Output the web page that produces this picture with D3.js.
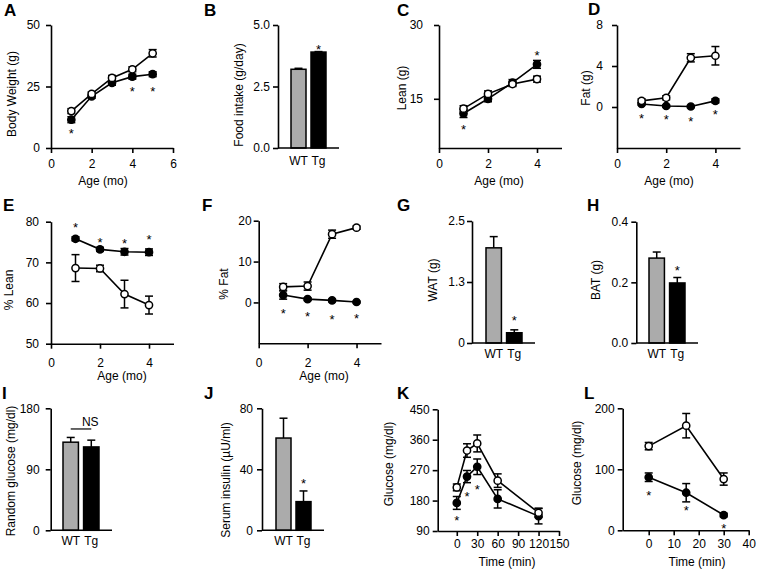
<!DOCTYPE html>
<html>
<head>
<meta charset="utf-8">
<script src="https://cdn.jsdelivr.net/npm/d3@7"></script>
<style>
    body { margin: 0; background: #fff; }
    svg { font-family: "Liberation Sans", Arial, sans-serif; }
    .axis path, .axis line { stroke: #000; stroke-width: 1.6; }
    .axis text { font-size: 12px; fill: #000; }
</style>
</head>
<body>
<svg id="fig" width="758" height="573"></svg>
<script>
// ---- DATA ----
// A: body weight
const ageA = [1, 2, 3, 4, 5];
const bodyWeightWT = [15, 22, 28.5, 32, 38.5];
const bodyWeightWTErr = [1, 0.8, 1, 1, 1.5];
const bodyWeightTg = [11.5, 21, 26.5, 29, 30];
const bodyWeightTgErr = [1.2, 0.8, 1, 1, 1];
const bodyWeightStars = [[1, 6.9], [4, 24], [5, 24]];

// bar groups
const groups = ['WT', 'Tg'];

// B: food intake
const foodIntake = [3.2, 3.9];
const foodIntakeErr = [0.04, 0.02];
const foodStars = [['Tg', 4.1]];

// C-F: body composition
const ageMo = [1, 2, 3, 4];
const leanWT = [13, 16, 18, 19];
const leanWTErr = [0.6, 0.6, 0.5, 0.6];
const leanTg = [12, 15, 18.3, 22];
const leanTgErr = [0.8, 0.6, 0.6, 0.8];
const leanStars = [[1, 9.3], [4, 24.3]];

const fatWT = [0.6, 0.9, 4.8, 5.0];
const fatWTErr = [0.2, 0.2, 0.4, 0.9];
const fatTg = [0.3, 0.1, 0.05, 0.6];
const fatTgErr = [0.1, 0.1, 0.1, 0.2];
const fatStars = [[1, -0.9], [2, -1.0], [3, -1.2], [4, -0.5]];

const pctLeanWT = [68.6, 68.5, 62.2, 59.5];
const pctLeanWTErr = [3.3, 0.8, 3.4, 2.2];
const pctLeanTg = [75.8, 73.2, 72.6, 72.5];
const pctLeanTgErr = [0.5, 0.5, 0.8, 0.8];
const pctLeanStars = [[1, 79.2], [2, 75.5], [3, 75.3], [4, 76.2]];

const pctFatWT = [3.8, 4.0, 16.7, 18.3];
const pctFatWTErr = [0.8, 1, 1, 0.4];
const pctFatTg = [1.8, 0.8, 0.5, 0.1];
const pctFatTgErr = [1, 0.3, 0.3, 0.2];
const pctFatStars = [[1, -2.1], [2, -2.8], [3, -3.5], [4, -3.3]];

// G, H: fat depots
const watValues = [1.95, 0.21];
const watErr = [0.23, 0.06];
const watStars = [['Tg', 0.51]];
const batValues = [0.28, 0.198];
const batErr = [0.02, 0.018];
const batStars = [['Tg', 0.248]];

// I, J: glucose / insulin
const randomGlucose = [130, 123];
const randomGlucoseErr = [7, 10];
const serumInsulin = [60.5, 18.8];
const serumInsulinErr = [13, 7];
const insulinStars = [['Tg', 32.3]];

// K: GTT
const gttTime = [0, 15, 30, 60, 120];
const gttWT = [219, 328, 349, 239, 144];
const gttWTErr = [10, 20, 25, 20, 13];
const gttTg = [173, 251, 280, 185, 134];
const gttTgErr = [19, 18, 23, 27, 23];
const gttStars = [[0, 129], [15, 199], [30, 221]];

// L: ITT
const ittTime = [0, 15, 30];
const ittWT = [138, 171.5, 84];
const ittWTErr = [6, 20, 10];
const ittTg = [87, 61.6, 25];
const ittTgErr = [7, 15, 3];
const ittStars = [[0, 61.6], [15, 36], [30, 7.5]];

const svg = d3.select('#fig');
const TICK = 5;

function panelLetter(letter, x, y) {
    svg.append('text')
        .attr('x', x).attr('y', y)
        .attr('fill', '#000')
        .style('font-size', '17px')
        .style('font-weight', 'bold')
        .text(letter);
}

function yTitle(text, x, y) {
    svg.append('text')
        .attr('transform', `translate(${x}, ${y}) rotate(-90)`)
        .attr('fill', '#000')
        .style('text-anchor', 'middle')
        .style('font-size', '12px')
        .text(text);
}

function drawYAxis(yScale, x, ticks, fmt, gap) {
    const axis = d3.axisLeft(yScale)
        .tickValues(ticks)
        .tickSize(TICK)
        .tickSizeOuter(0)
        .tickPadding(gap - TICK)
        .tickFormat(fmt || d3.format('d'));
    svg.append('g')
        .attr('class', 'axis')
        .attr('transform', `translate(${x}, 0)`)
        .call(axis);
}

function drawStars(stars, xPos, yScale) {
    svg.selectAll(null)
        .data(stars)
        .enter()
        .append('text')
        .attr('x', (d) => xPos(d[0]))
        .attr('y', (d) => yScale(d[1]))
        .attr('dy', '0.55em')
        .attr('fill', '#000')
        .style('text-anchor', 'middle')
        .style('font-size', '13px')
        .text('*');
}

// line + scatter panel
function plotLines(p) {
    const xScale = d3.scaleLinear().domain(p.xDomain).range(p.xRange);
    const yScale = d3.scaleLinear().domain(p.yDomain).range(p.yRange);
    const y0 = p.yRange[0];

    // x-axis //
    svg.append('g')
        .attr('class', 'axis')
        .attr('transform', `translate(0, ${y0})`)
        .call(d3.axisBottom(xScale)
            .tickValues(p.xTicks)
            .tickFormat(d3.format('d'))
            .tickSize(TICK)
            .tickSizeOuter(0)
            .tickPadding(p.xLabelY - y0 - 8.5 - TICK));

    svg.append('text')
        .attr('x', p.xTitle[1]).attr('y', p.xTitle[2])
        .attr('fill', '#000')
        .style('text-anchor', 'middle')
        .style('font-size', '12px')
        .text(p.xTitle[0]);

    // y-axis //
    drawYAxis(yScale, p.xRange[0], p.yTicks, null, p.yGap);
    yTitle(p.yTitle[0], p.yTitle[1], p.yTitle[2]);

    const line = d3.line()
        .x((d) => xScale(d.x))
        .y((d) => yScale(d.v));

    const chart = svg.append('g');

    p.series.forEach((s) => {
        const pts = p.x.map((x, i) => ({x: x, v: s.v[i], e: s.err[i]}));
        chart.append('path')
            .datum(pts)
            .attr('d', line)
            .attr('fill', 'none')
            .attr('stroke', '#000')
            .attr('stroke-width', 1.6);
        s.pts = pts;
    });

    p.series.forEach((s) => {
        // error bars
        const eb = chart.selectAll(null).data(s.pts).enter().append('g')
            .attr('stroke', '#000').attr('stroke-width', 1.5);
        eb.append('line')
            .attr('x1', (d) => xScale(d.x)).attr('x2', (d) => xScale(d.x))
            .attr('y1', (d) => yScale(d.v - d.e)).attr('y2', (d) => yScale(d.v + d.e));
        eb.append('line')
            .attr('x1', (d) => xScale(d.x) - 4).attr('x2', (d) => xScale(d.x) + 4)
            .attr('y1', (d) => yScale(d.v + d.e)).attr('y2', (d) => yScale(d.v + d.e));
        eb.append('line')
            .attr('x1', (d) => xScale(d.x) - 4).attr('x2', (d) => xScale(d.x) + 4)
            .attr('y1', (d) => yScale(d.v - d.e)).attr('y2', (d) => yScale(d.v - d.e));

        chart.selectAll(null).data(s.pts).enter().append('circle')
            .attr('cx', (d) => xScale(d.x))
            .attr('cy', (d) => yScale(d.v))
            .attr('r', 3.6)
            .attr('fill', s.open ? '#fff' : '#000')
            .attr('stroke', '#000')
            .attr('stroke-width', 1.5);
    });

    drawStars(p.stars, xScale, yScale);
}

// WT / Tg bar panel
function plotBars(p) {
    const xScale = d3.scaleBand()
        .domain(groups)
        .range(p.barRange)
        .paddingInner(0.25)
        .paddingOuter(0);
    const yScale = d3.scaleLinear().domain(p.yDomain).range(p.yRange);
    const y0 = yScale(0);
    const mid = (g) => xScale(g) + xScale.bandwidth() / 2;

    const data = groups.map((g, i) => ({g: g, v: p.values[i], e: p.err[i]}));

    // error bars (upper only)
    const eb = svg.selectAll(null).data(data).enter().append('g')
        .attr('stroke', '#000').attr('stroke-width', 1.5);
    eb.append('line')
        .attr('x1', (d) => mid(d.g)).attr('x2', (d) => mid(d.g))
        .attr('y1', (d) => yScale(d.v)).attr('y2', (d) => yScale(d.v + d.e));
    eb.append('line')
        .attr('x1', (d) => mid(d.g) - 4).attr('x2', (d) => mid(d.g) + 4)
        .attr('y1', (d) => yScale(d.v + d.e)).attr('y2', (d) => yScale(d.v + d.e));

    svg.selectAll(null).data(data).enter().append('rect')
        .attr('x', (d) => xScale(d.g))
        .attr('y', (d) => yScale(d.v))
        .attr('width', xScale.bandwidth())
        .attr('height', (d) => y0 - yScale(d.v))
        .attr('fill', (d) => d.g === 'WT' ? '#ababab' : '#000')
        .attr('stroke', '#000')
        .attr('stroke-width', 1.5);

    // x-axis line and labels
    svg.append('line')
        .attr('x1', p.axisX[0]).attr('x2', p.axisX[1])
        .attr('y1', y0).attr('y2', y0)
        .attr('stroke', '#000').attr('stroke-width', 1.6);

    svg.selectAll(null).data(groups).enter().append('text')
        .attr('x', (d) => mid(d))
        .attr('y', p.labelY)
        .attr('fill', '#000')
        .style('text-anchor', 'middle')
        .style('font-size', '12px')
        .text((d) => d);

    drawYAxis(yScale, p.axisX[0], p.yTicks, p.yFormat, p.yGap);
    yTitle(p.yTitle[0], p.yTitle[1], p.yTitle[2]);

    if (p.stars) drawStars(p.stars, mid, yScale);

    return {xScale: xScale, yScale: yScale, mid: mid};
}

// ---- ROW 1 ----
panelLetter('A', 4, 16);
plotLines({
    x: ageA, xDomain: [0, 6], xRange: [51, 173], xTicks: [0, 2, 4, 6],
    yDomain: [0, 50], yRange: [148, 25], yTicks: [0, 25, 50], yGap: 11,
    xLabelY: 168, xTitle: ['Age (mo)', 103, 185], yTitle: ['Body Weight (g)', 16, 94],
    series: [{v: bodyWeightTg, err: bodyWeightTgErr, open: false},
             {v: bodyWeightWT, err: bodyWeightWTErr, open: true}],
    stars: bodyWeightStars
});

panelLetter('B', 204, 16);
plotBars({
    values: foodIntake, err: foodIntakeErr, barRange: [291, 326], axisX: [278, 339],
    yDomain: [0, 5], yRange: [148, 25], yTicks: [0, 2.5, 5], yFormat: d3.format('.1f'), yGap: 8,
    labelY: 165, yTitle: ['Food intake (g/day)', 243, 95], stars: foodStars
});

panelLetter('C', 397, 16);
plotLines({
    x: ageMo, xDomain: [0, 5], xRange: [439, 561.5], xTicks: [0, 2, 4],
    yDomain: [5, 30], yRange: [148, 25], yTicks: [15, 30], yGap: 16,
    xLabelY: 168, xTitle: ['Age (mo)', 499, 185], yTitle: ['Lean (g)', 406, 88],
    series: [{v: leanTg, err: leanTgErr, open: false},
             {v: leanWT, err: leanWTErr, open: true}],
    stars: leanStars
});

panelLetter('D', 588, 15);
plotLines({
    x: ageMo, xDomain: [0, 5], xRange: [617, 740], xTicks: [0, 2, 4],
    yDomain: [-4, 8], yRange: [148, 25], yTicks: [0, 4, 8], yGap: 14,
    xLabelY: 168, xTitle: ['Age (mo)', 669, 185], yTitle: ['Fat (g)', 590, 88],
    series: [{v: fatTg, err: fatTgErr, open: false},
             {v: fatWT, err: fatWTErr, open: true}],
    stars: fatStars
});

// ---- ROW 2 ----
panelLetter('E', 3, 211);
plotLines({
    x: ageMo, xDomain: [0, 5], xRange: [51, 173.5], xTicks: [0, 2, 4],
    yDomain: [50, 80], yRange: [343.7, 221.7], yTicks: [50, 60, 70, 80], yGap: 12,
    xLabelY: 367, xTitle: ['Age (mo)', 122, 380], yTitle: ['% Lean', 13, 290],
    series: [{v: pctLeanTg, err: pctLeanTgErr, open: false},
             {v: pctLeanWT, err: pctLeanWTErr, open: true}],
    stars: pctLeanStars
});

panelLetter('F', 202, 211);
plotLines({
    x: ageMo, xDomain: [0, 5], xRange: [258.7, 381], xTicks: [0, 2, 4],
    yDomain: [-10, 20], yRange: [343.3, 220.7], yTicks: [0, 10, 20], yGap: 7,
    xLabelY: 367, xTitle: ['Age (mo)', 324, 380], yTitle: ['% Fat', 228, 284],
    series: [{v: pctFatTg, err: pctFatTgErr, open: false},
             {v: pctFatWT, err: pctFatWTErr, open: true}],
    stars: pctFatStars
});

panelLetter('G', 397, 211);
plotBars({
    values: watValues, err: watErr, barRange: [486, 522], axisX: [472, 535],
    yDomain: [0, 2.5], yRange: [343, 221], yTicks: [0, 1.25, 2.5],
    yFormat: (d) => d === 0 ? '0' : d3.format('.1f')(d + 0.001), yGap: 7,
    labelY: 358, yTitle: ['WAT (g)', 437, 280], stars: watStars
});

panelLetter('H', 587, 211);
plotBars({
    values: batValues, err: batErr, barRange: [649, 685], axisX: [636.3, 698],
    yDomain: [0, 0.4], yRange: [343, 221.7], yTicks: [0, 0.2, 0.4], yFormat: d3.format('.1f'), yGap: 8,
    labelY: 358, yTitle: ['BAT (g)', 600, 280], stars: batStars
});

// ---- ROW 3 ----
panelLetter('I', 2, 399);
const pI = plotBars({
    values: randomGlucose, err: randomGlucoseErr, barRange: [63, 99], axisX: [50.7, 112],
    yDomain: [0, 180], yRange: [530.3, 408.3], yTicks: [0, 90, 180], yGap: 11,
    labelY: 545, yTitle: ['Random glucose (mg/dl)', 15, 471]
});
// NS bracket
svg.append('line')
    .attr('x1', pI.mid('WT')).attr('x2', pI.mid('Tg'))
    .attr('y1', pI.yScale(149.5)).attr('y2', pI.yScale(149.5))
    .attr('stroke', '#000').attr('stroke-width', 1.2);
svg.append('text')
    .attr('x', pI.mid('Tg') - 1).attr('y', pI.yScale(149.5) - 3)
    .attr('fill', '#000')
    .style('text-anchor', 'middle')
    .style('font-size', '12px')
    .text('NS');

panelLetter('J', 204, 399);
plotBars({
    values: serumInsulin, err: serumInsulinErr, barRange: [276, 311], axisX: [262, 324],
    yDomain: [0, 80], yRange: [530.3, 408.3], yTicks: [0, 40, 80], yGap: 9,
    labelY: 545, yTitle: ['Serum insulin (\u00b5U/ml)', 230, 480], stars: insulinStars
});

panelLetter('K', 397, 399);
plotLines({
    x: gttTime, xDomain: [-28, 150], xRange: [437.7, 559], xTicks: [0, 30, 60, 90, 120, 150],
    yDomain: [90, 450], yRange: [531, 409.3], yTicks: [90, 180, 270, 360, 450], yGap: 8,
    xLabelY: 548, xTitle: ['Time (min)', 507, 566], yTitle: ['Glucose (mg/dl)', 393, 464],
    series: [{v: gttTg, err: gttTgErr, open: false},
             {v: gttWT, err: gttWTErr, open: true}],
    stars: gttStars
});

panelLetter('L', 584, 399);
plotLines({
    x: ittTime, xDomain: [-10.4, 40], xRange: [622.7, 748.7], xTicks: [0, 10, 20, 30, 40],
    yDomain: [0, 200], yRange: [530.3, 408.3], yTicks: [0, 100, 200], yGap: 8,
    xLabelY: 548, xTitle: ['Time (min)', 697, 566], yTitle: ['Glucose (mg/dl)', 581, 463],
    series: [{v: ittTg, err: ittTgErr, open: false},
             {v: ittWT, err: ittWTErr, open: true}],
    stars: ittStars
});
</script>
</body>
</html>
